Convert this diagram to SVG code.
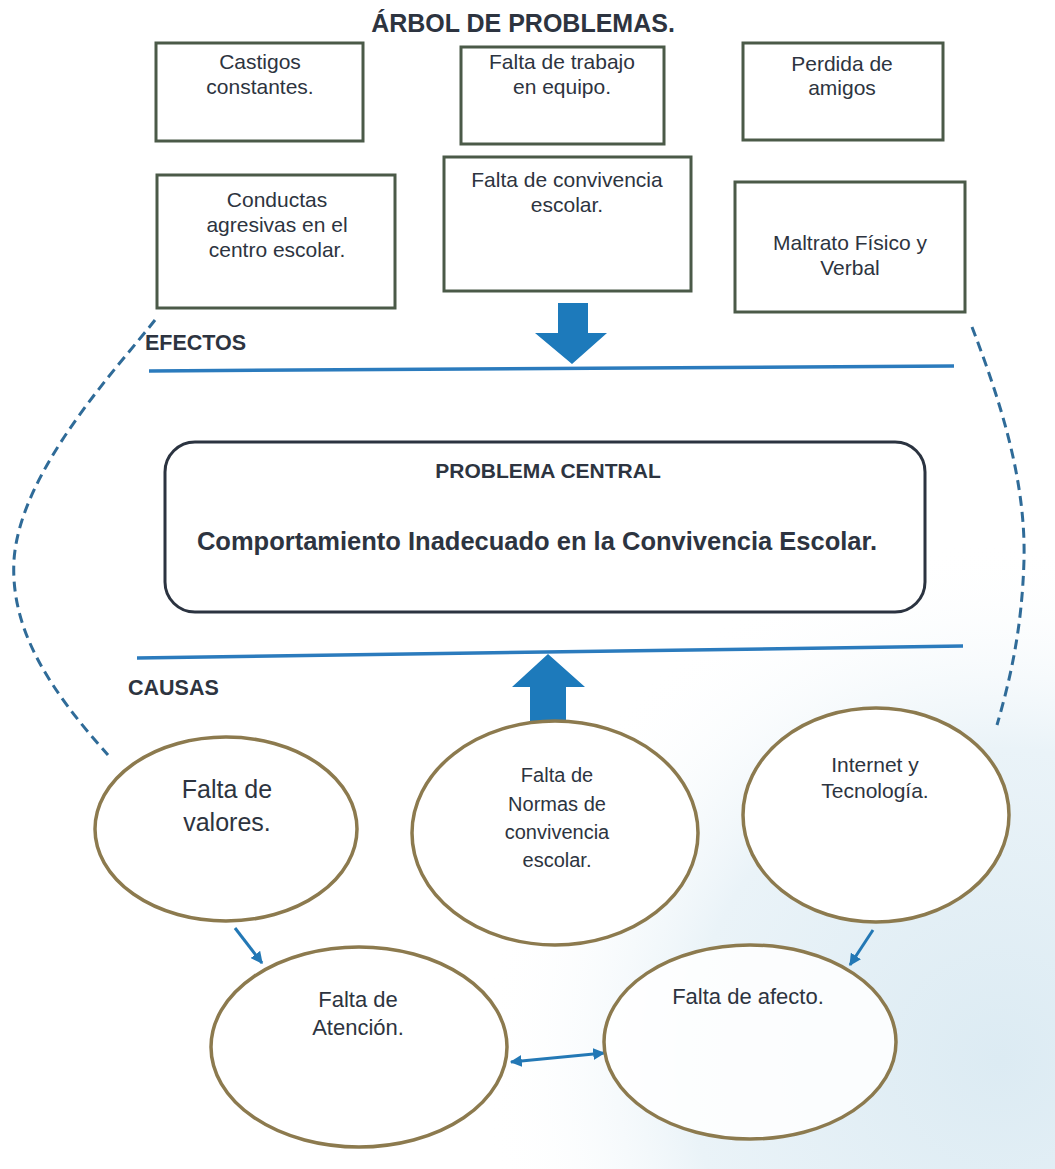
<svg xmlns="http://www.w3.org/2000/svg" width="1055" height="1169" viewBox="0 0 1055 1169">
  <defs>
    <style>
      .t { font-family: "Liberation Sans", Arial, sans-serif; fill: #2d3440; text-anchor: middle; }
      .b { font-weight: bold; }
      .box { fill: #ffffff; stroke: #4b5a48; stroke-width: 3; }
      .ell { fill: #ffffff; stroke: #8c7a4e; stroke-width: 3.5; }
      .sep { stroke: #2b7bbd; stroke-width: 3.5; fill: none; }
      .dash { stroke: #2f6b98; stroke-width: 3; fill: none; stroke-dasharray: 10 6; }
      .conn { stroke: #2378b5; stroke-width: 3; fill: none; }
      .big { fill: #1d7abb; }
    </style>
    <radialGradient id="bg" cx="1000" cy="1060" r="520" gradientUnits="userSpaceOnUse">
      <stop offset="0" stop-color="#dcebf3"/>
      <stop offset="0.6" stop-color="#eaf3f8"/>
      <stop offset="1" stop-color="#ffffff" stop-opacity="0"/>
    </radialGradient>
    <marker id="ah" viewBox="0 0 10 10" refX="9" refY="5" markerWidth="4" markerHeight="4" orient="auto-start-reverse" markerUnits="strokeWidth">
      <path d="M0,0 L10,5 L0,10 z" fill="#2378b5"/>
    </marker>
  </defs>

  <rect x="0" y="0" width="1055" height="1169" fill="#ffffff"/>
  <rect x="0" y="0" width="1055" height="1169" fill="url(#bg)"/>

  <text class="t b" x="523" y="32" font-size="25">ÁRBOL DE PROBLEMAS.</text>

  <g id="castigos">
    <rect class="box" x="156" y="43" width="207" height="98"/>
    <text class="t" x="260" y="69" font-size="21">Castigos</text>
    <text class="t" x="260" y="94" font-size="21">constantes.</text>
  </g>
  <g id="trabajo">
    <rect class="box" x="461" y="47" width="203" height="97"/>
    <text class="t" x="562" y="69" font-size="21">Falta de trabajo</text>
    <text class="t" x="562" y="94" font-size="21">en equipo.</text>
  </g>
  <g id="amigos">
    <rect class="box" x="743" y="43" width="200" height="97"/>
    <text class="t" x="842" y="71" font-size="21">Perdida de</text>
    <text class="t" x="842" y="95" font-size="21">amigos</text>
  </g>
  <g id="conductas">
    <rect class="box" x="157" y="175" width="238" height="133"/>
    <text class="t" x="277" y="207" font-size="21">Conductas</text>
    <text class="t" x="277" y="232" font-size="21">agresivas en el</text>
    <text class="t" x="277" y="257" font-size="21">centro escolar.</text>
  </g>
  <g id="convivencia">
    <rect class="box" x="444" y="157" width="247" height="134"/>
    <text class="t" x="567" y="187" font-size="21">Falta de convivencia</text>
    <text class="t" x="567" y="212" font-size="21">escolar.</text>
  </g>
  <g id="maltrato">
    <rect class="box" x="735" y="182" width="230" height="130"/>
    <text class="t" x="850" y="250" font-size="21">Maltrato Físico y</text>
    <text class="t" x="850" y="275" font-size="21">Verbal</text>
  </g>

  <g id="efectos-label">
    <text class="t b" x="145" y="350" font-size="21.5" text-anchor="start" style="text-anchor:start">EFECTOS</text>
  </g>
  <g id="causas-label">
    <text class="t b" x="128" y="695" font-size="21.5" style="text-anchor:start">CAUSAS</text>
  </g>

  <g id="connectors">
    <path class="dash" d="M155,320 C120,365 20,470 14,560 C10,630 50,690 108,755"/>
    <path class="dash" d="M972,327 C1000,400 1026,480 1024,560 C1022,630 1010,680 997,725"/>
    <line class="sep" x1="149" y1="371" x2="954" y2="366"/>
    <line class="sep" x1="137" y1="658" x2="963" y2="646"/>
    <polygon class="big" points="558,303 588,303 588,333 607,333 572,364 535,333 558,333"/>
    <polygon class="big" points="548,654 585,687 566,687 566,722 530,722 530,687 512,687"/>
    <line class="conn" x1="235" y1="928" x2="262" y2="963" marker-end="url(#ah)"/>
    <line class="conn" x1="873" y1="930" x2="850" y2="965" marker-end="url(#ah)"/>
    <line class="conn" x1="511" y1="1062" x2="604" y2="1053" stroke-width="4" marker-start="url(#ah)" marker-end="url(#ah)"/>
  </g>

  <g id="problema-central">
    <rect x="165" y="442" width="760" height="170" rx="30" ry="30" fill="#ffffff" stroke="#2b3340" stroke-width="3"/>
    <text class="t b" x="548" y="478" font-size="21">PROBLEMA CENTRAL</text>
    <text class="t b" x="537" y="550" font-size="25.5">Comportamiento Inadecuado en la Convivencia Escolar.</text>
  </g>

  <g id="valores">
    <ellipse class="ell" cx="226" cy="829" rx="131" ry="92"/>
    <text class="t" x="227" y="798" font-size="25">Falta de</text>
    <text class="t" x="227" y="831" font-size="25">valores.</text>
  </g>
  <g id="normas">
    <ellipse class="ell" cx="555" cy="833" rx="143" ry="112"/>
    <text class="t" x="557" y="782" font-size="20">Falta de</text>
    <text class="t" x="557" y="811" font-size="20">Normas de</text>
    <text class="t" x="557" y="839" font-size="20">convivencia</text>
    <text class="t" x="557" y="867" font-size="20">escolar.</text>
  </g>
  <g id="internet">
    <ellipse class="ell" cx="876" cy="815" rx="133" ry="107"/>
    <text class="t" x="875" y="772" font-size="21">Internet y</text>
    <text class="t" x="875" y="798" font-size="21">Tecnología.</text>
  </g>
  <g id="atencion">
    <ellipse class="ell" cx="359" cy="1047" rx="148" ry="100"/>
    <text class="t" x="358" y="1007" font-size="22">Falta de</text>
    <text class="t" x="358" y="1035" font-size="22">Atención.</text>
  </g>
  <g id="afecto">
    <ellipse class="ell" cx="750" cy="1042" rx="146" ry="97" fill-opacity="0.85"/>
    <text class="t" x="748" y="1004" font-size="22">Falta de afecto.</text>
  </g>
</svg>
